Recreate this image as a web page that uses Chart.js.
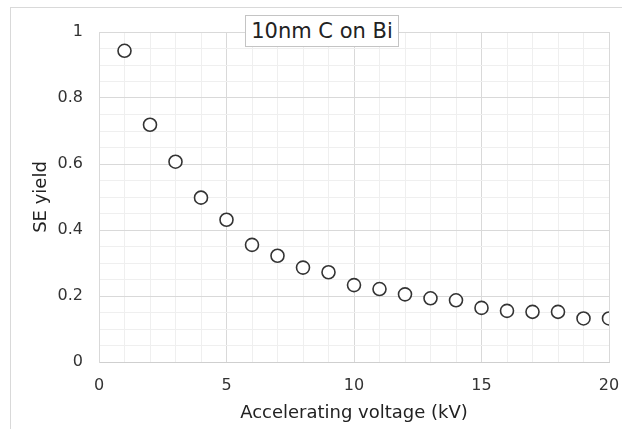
<!DOCTYPE html>
<html>
<head>
<meta charset="utf-8">
<script src="https://cdn.jsdelivr.net/npm/chart.js@4"></script>
<style>
    body { margin: 0; background: #fff; }
    #wrap { position: relative; width: 622px; height: 429px; overflow: hidden; }
    #frame {
        position: absolute; left: 10px; top: 7px; width: 700px; height: 500px;
        border-top: 1px solid #d9d9d9; border-left: 1px solid #d9d9d9;
    }
    #chart { position: absolute; left: 0; top: 0; }
    #title {
        position: absolute; left: 245px; top: 15px; width: 152px; height: 30px;
        border: 1px solid #c4c4c4; background: #fff;
        font: 21px "DejaVu Sans", sans-serif; color: #222;
        line-height: 30px; text-align: center; white-space: nowrap;
    }
</style>
</head>
<body>
<div id="wrap">
    <div id="frame"></div>
    <canvas id="chart" width="622" height="429"></canvas>
    <div id="title">10nm C on Bi</div>
</div>
<script>
// Data
const voltages = [1, 2, 3, 4, 5, 6, 7, 8, 9, 10, 11, 12, 13, 14, 15, 16, 17, 18, 19, 20];
const seYield = [0.943, 0.719, 0.607, 0.498, 0.431, 0.355, 0.322, 0.286, 0.272, 0.233,
                 0.221, 0.205, 0.193, 0.187, 0.164, 0.155, 0.152, 0.152, 0.132, 0.132];
const xTickLabels = [0, 5, 10, 15, 20];
const yTickLabels = [0, 0.2, 0.4, 0.6, 0.8, 1];

const MAJOR = '#d9d9d9';
const MINOR = '#efefef';

function isLabelled(value, list) {
    return list.some(v => Math.abs(v - value) < 1e-6);
}

document.addEventListener('DOMContentLoaded', function () {
    const ctx = document.getElementById('chart').getContext('2d');

    new Chart(ctx, {
        type: 'scatter',
        data: {
            datasets: [{
                label: 'SE yield',
                data: voltages.map((v, i) => ({ x: v, y: seYield[i] })),
                pointStyle: 'circle',
                pointRadius: 6.5,
                pointBorderWidth: 1.6,
                pointBorderColor: '#333',
                pointBackgroundColor: '#fff'
            }]
        },
        options: {
            responsive: false,
            animation: false,
            layout: { padding: { left: 0, top: 32, right: 13, bottom: 0 } },
            plugins: {
                legend: { display: false },
                tooltip: { enabled: false }
            },
            scales: {
                x: {
                    type: 'linear',
                    min: 0,
                    max: 20,
                    afterFit: function (scale) {
                        scale.height = 67;
                        scale.paddingLeft = 0;
                        scale.paddingRight = 0;
                    },
                    grid: {
                        drawTicks: false,
                        color: ctx => isLabelled(ctx.tick.value, xTickLabels) ? MAJOR : MINOR
                    },
                    border: { color: '#cfcfcf' },
                    ticks: {
                        stepSize: 1,
                        autoSkip: false,
                        maxRotation: 0,
                        padding: 14,
                        color: '#333',
                        font: { family: 'DejaVu Sans', size: 16 },
                        callback: v => isLabelled(v, xTickLabels) ? String(v) : ''
                    },
                    title: {
                        display: true,
                        text: 'Accelerating voltage (kV)',
                        color: '#222',
                        font: { family: 'DejaVu Sans', size: 18 },
                        padding: { top: 0, bottom: 5 }
                    }
                },
                y: {
                    min: 0,
                    max: 1,
                    afterFit: function (scale) {
                        scale.width = 99;
                        scale.paddingTop = 0;
                        scale.paddingBottom = 0;
                    },
                    grid: {
                        drawTicks: false,
                        color: ctx => isLabelled(ctx.tick.value, yTickLabels) ? MAJOR : MINOR
                    },
                    border: { color: MAJOR },
                    ticks: {
                        stepSize: 0.05,
                        autoSkip: false,
                        padding: 16,
                        color: '#333',
                        font: { family: 'DejaVu Sans', size: 16 },
                        callback: v => isLabelled(v, yTickLabels) ? String(Math.round(v * 10) / 10) : ''
                    },
                    title: {
                        display: true,
                        text: 'SE yield',
                        color: '#222',
                        font: { family: 'DejaVu Sans', size: 18 },
                        padding: { top: 31, bottom: 0 }
                    }
                }
            }
        }
    });
});
</script>
</body>
</html>
